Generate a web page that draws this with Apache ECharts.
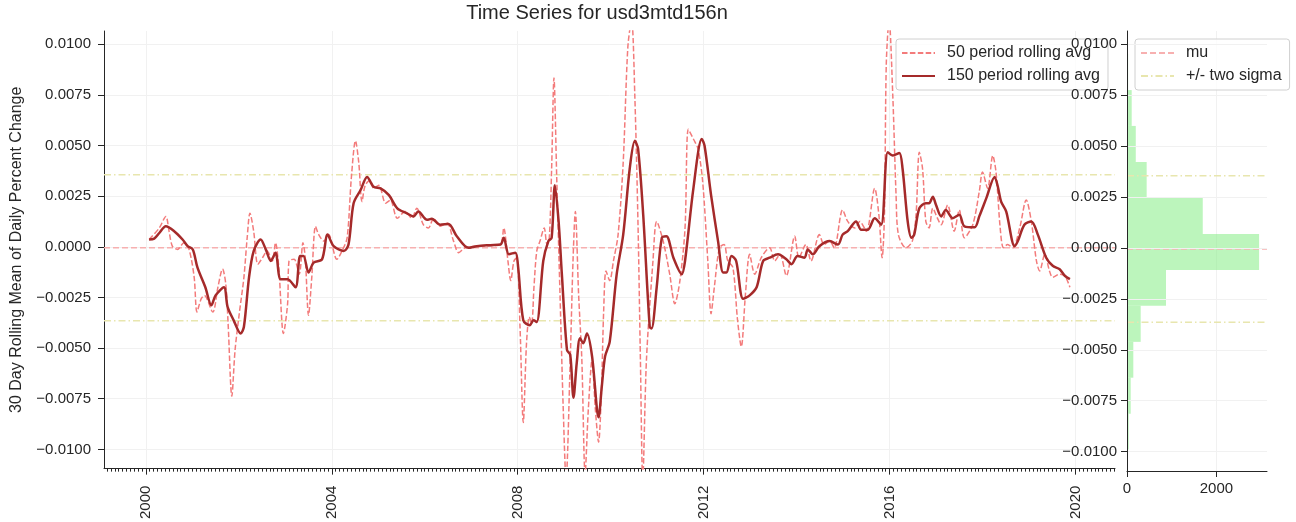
<!DOCTYPE html>
<html>
<head>
<meta charset="utf-8">
<script src="https://cdn.jsdelivr.net/npm/echarts@6/dist/echarts.min.js"></script>
<style>
  html, body { margin: 0; padding: 0; background: #ffffff; }
  #chart { width: 1296px; height: 522px; }
</style>
</head>
<body>
<div id="chart"></div>
<script>
// 150 period rolling average (decimal year, value)
const years150 = [
  2000.07, 2000.18, 2000.29, 2000.43, 2000.61, 2000.79, 2000.90, 2001.01, 2001.11, 2001.28,
  2001.41, 2001.50, 2001.68, 2001.76, 2001.89, 2002.04, 2002.11, 2002.22, 2002.32, 2002.47,
  2002.58, 2002.69, 2002.79, 2002.90, 2003.05, 2003.22, 2003.32, 2003.39, 2003.50, 2003.61,
  2003.79, 2003.91, 2004.04, 2004.26, 2004.36, 2004.47, 2004.62, 2004.76, 2004.90, 2005.05,
  2005.23, 2005.41, 2005.61, 2005.76, 2005.86, 2006.05, 2006.15, 2006.33, 2006.51, 2006.69,
  2006.94, 2007.12, 2007.41, 2007.63, 2007.70, 2007.81, 2007.95, 2008.01, 2008.12, 2008.26,
  2008.34, 2008.41, 2008.55, 2008.66, 2008.73, 2008.80, 2008.88, 2008.95, 2009.06, 2009.13,
  2009.20, 2009.27, 2009.34, 2009.41, 2009.49, 2009.60, 2009.74, 2009.81, 2009.88, 2009.98,
  2010.13, 2010.27, 2010.41, 2010.52, 2010.59, 2010.70, 2010.84, 2010.88, 2010.99, 2011.10,
  2011.20, 2011.35, 2011.53, 2011.60, 2011.78, 2011.96, 2012.02, 2012.16, 2012.31, 2012.42,
  2012.49, 2012.60, 2012.70, 2012.85, 2012.99, 2013.14, 2013.28, 2013.42, 2013.60, 2013.78,
  2013.89, 2014.02, 2014.17, 2014.24, 2014.35, 2014.49, 2014.71, 2014.89, 2014.99, 2015.10,
  2015.28, 2015.39, 2015.53, 2015.68, 2015.82, 2015.96, 2016.07, 2016.21, 2016.28, 2016.39,
  2016.47, 2016.53, 2016.64, 2016.78, 2016.85, 2016.93, 2017.00, 2017.11, 2017.21, 2017.36,
  2017.50, 2017.61, 2017.83, 2017.93, 2018.08, 2018.26, 2018.33, 2018.40, 2018.51, 2018.69,
  2018.76, 2018.90, 2019.05, 2019.19, 2019.37, 2019.51, 2019.66, 2019.77, 2019.88
];
const avg150 = [
  0.00036, 0.00040, 0.00068, 0.00101, 0.00077, 0.00036, 0.00003, -0.00013, -0.00102, -0.00200,
  -0.00289, -0.00240, -0.00200, -0.00298, -0.00363, -0.00428, -0.00395, -0.00151, -0.00021, 0.00036,
  -0.00013, -0.00070, -0.00029, -0.00160, -0.00160, -0.00200, -0.00045, -0.00045, -0.00127, -0.00078,
  -0.00062, 0.00060, 0.00003, -0.00021, 0.00011, 0.00215, 0.00280, 0.00345, 0.00296, 0.00288,
  0.00255, 0.00190, 0.00166, 0.00150, 0.00174, 0.00133, 0.00138, 0.00109, 0.00112, 0.00052,
  -0.00005, 0.00003, 0.00008, 0.00011, 0.00044, -0.00037, -0.00029, -0.00102, -0.00363, -0.00387,
  -0.00363, -0.00371, -0.00070, 0.00028, 0.00044, 0.00304, 0.00125, -0.00135, -0.00509, -0.00533,
  -0.00745, -0.00574, -0.00452, -0.00476, -0.00428, -0.00541, -0.00842, -0.00688, -0.00541, -0.00468,
  -0.00135, 0.00060, 0.00385, 0.00523, 0.00483, 0.00158, -0.00395, -0.00403, -0.00200, 0.00044,
  0.00052, -0.00054, -0.00135, -0.00070, 0.00288, 0.00532, 0.00499, 0.00255, 0.00028, -0.00127,
  -0.00127, -0.00045, -0.00070, -0.00257, -0.00240, -0.00200, -0.00070, -0.00054, -0.00037, -0.00062,
  -0.00086, -0.00045, -0.00054, -0.00013, -0.00037, 0.00003, 0.00028, 0.00011, 0.00060, 0.00077,
  0.00125, 0.00084, 0.00084, 0.00141, 0.00109, 0.00467, 0.00450, 0.00463, 0.00385, 0.00125,
  0.00044, 0.00060, 0.00190, 0.00215, 0.00215, 0.00247, 0.00206, 0.00150, 0.00182, 0.00141,
  0.00158, 0.00101, 0.00096, 0.00150, 0.00239, 0.00345, 0.00296, 0.00223, 0.00174, 0.00003,
  0.00028, 0.00109, 0.00125, 0.00060, -0.00054, -0.00094, -0.00111, -0.00143, -0.00160
];

// 50 period rolling average (decimal year, value)
const years50 = [
  2000.07, 2000.29, 2000.43, 2000.50, 2000.57, 2000.68, 2000.82, 2000.93, 2001.04, 2001.10,
  2001.19, 2001.26, 2001.44, 2001.55, 2001.65, 2001.72, 2001.77, 2001.85, 2001.92, 2002.01,
  2002.11, 2002.18, 2002.24, 2002.32, 2002.41, 2002.51, 2002.61, 2002.72, 2002.79, 2002.86,
  2002.96, 2003.05, 2003.08, 2003.19, 2003.30, 2003.38, 2003.43, 2003.50, 2003.57, 2003.65,
  2003.72, 2003.83, 2003.93, 2004.11, 2004.22, 2004.33, 2004.42, 2004.51, 2004.58, 2004.65,
  2004.72, 2004.83, 2004.90, 2005.01, 2005.16, 2005.26, 2005.41, 2005.58, 2005.72, 2005.83,
  2005.97, 2006.08, 2006.19, 2006.33, 2006.48, 2006.62, 2006.73, 2006.87, 2007.13, 2007.41,
  2007.63, 2007.70, 2007.79, 2007.85, 2007.92, 2007.98, 2008.05, 2008.12, 2008.19, 2008.25,
  2008.30, 2008.35, 2008.41, 2008.48, 2008.57, 2008.63, 2008.68, 2008.73, 2008.78, 2008.84,
  2008.91, 2008.98, 2009.04, 2009.13, 2009.19, 2009.24, 2009.31, 2009.38, 2009.45, 2009.52,
  2009.60, 2009.67, 2009.74, 2009.80, 2009.85, 2009.90, 2009.98, 2010.06, 2010.16, 2010.27,
  2010.37, 2010.45, 2010.52, 2010.59, 2010.64, 2010.69, 2010.77, 2010.91, 2010.99, 2011.13,
  2011.27, 2011.38, 2011.49, 2011.60, 2011.67, 2011.78, 2011.88, 2011.98, 2012.09, 2012.16,
  2012.23, 2012.34, 2012.44, 2012.52, 2012.63, 2012.73, 2012.81, 2012.90, 2012.99, 2013.10,
  2013.24, 2013.42, 2013.53, 2013.64, 2013.78, 2013.96, 2014.05, 2014.20, 2014.31, 2014.49,
  2014.59, 2014.71, 2014.81, 2014.99, 2015.10, 2015.25, 2015.36, 2015.50, 2015.68, 2015.77,
  2015.84, 2015.89, 2015.93, 2015.99, 2016.07, 2016.14, 2016.19, 2016.35, 2016.49, 2016.57,
  2016.64, 2016.71, 2016.78, 2016.85, 2016.93, 2017.03, 2017.11, 2017.25, 2017.39, 2017.50,
  2017.61, 2017.79, 2017.93, 2018.00, 2018.11, 2018.22, 2018.29, 2018.38, 2018.45, 2018.54,
  2018.65, 2018.80, 2018.94, 2019.05, 2019.16, 2019.23, 2019.34, 2019.44, 2019.51, 2019.66,
  2019.77, 2019.88
];
const avg50 = [
  0.00036, 0.00093, 0.00150, 0.00077, 0.00003, -0.00013, 0.00020, -0.00013, -0.00151, -0.00322,
  -0.00257, -0.00240, -0.00322, -0.00200, -0.00110, -0.00184, -0.00379, -0.00737, -0.00509, -0.00330,
  -0.00151, 0.00044, 0.00166, 0.00077, -0.00086, -0.00054, -0.00021, -0.00070, 0.00020, -0.00102,
  -0.00428, -0.00281, -0.00070, -0.00062, -0.00135, 0.00020, -0.00054, -0.00338, -0.00151, 0.00101,
  0.00060, 0.00028, 0.00060, -0.00062, -0.00021, 0.00044, 0.00337, 0.00523, 0.00418, 0.00223,
  0.00304, 0.00328, 0.00288, 0.00304, 0.00215, 0.00231, 0.00141, 0.00174, 0.00141, 0.00190,
  0.00109, 0.00093, 0.00141, 0.00101, 0.00117, 0.00028, -0.00029, -0.00005, 0.00003, 0.00005,
  0.00011, 0.00093, -0.00070, -0.00167, -0.00070, -0.00054, -0.00395, -0.00867, -0.00475, -0.00346,
  -0.00379, -0.00200, -0.00021, 0.00028, 0.00093, 0.00011, 0.00044, 0.00385, 0.00833, 0.00337,
  -0.00233, -0.00802, -0.01150, -0.00558, -0.00070, 0.00174, -0.00233, -0.00558, -0.01120, -0.00800,
  -0.00558, -0.00800, -0.00964, -0.00720, -0.00313, -0.00119, -0.00167, -0.00070, 0.00060, 0.00418,
  0.00987, 0.01120, 0.00743, 0.00093, -0.00558, -0.01150, -0.00558, -0.00070, 0.00125, 0.00028,
  -0.00135, -0.00281, -0.00167, 0.00093, 0.00580, 0.00532, 0.00483, 0.00320, -0.00070, -0.00330,
  -0.00200, -0.00005, 0.00011, -0.00070, -0.00102, -0.00363, -0.00493, -0.00233, -0.00037, -0.00135,
  -0.00054, -0.00005, -0.00070, -0.00037, -0.00143, 0.00052, -0.00054, 0.00011, -0.00070, 0.00060,
  0.00011, 0.00028, -0.00005, 0.00182, 0.00125, 0.00093, 0.00125, 0.00077, 0.00288, 0.00158,
  -0.00054, 0.00158, 0.00906, 0.01120, 0.00743, 0.00255, 0.00060, -0.00005, 0.00028, 0.00158,
  0.00467, 0.00385, 0.00125, 0.00093, 0.00190, 0.00141, 0.00109, 0.00206, 0.00077, 0.00182,
  0.00044, 0.00109, 0.00272, 0.00369, 0.00288, 0.00450, 0.00369, 0.00093, -0.00005, 0.00011,
  -0.00005, 0.00093, 0.00231, 0.00125, -0.00070, -0.00119, -0.00037, -0.00119, -0.00151, -0.00135,
  -0.00143, -0.00200
];

// Histogram of the rolling mean: bin edges and counts
const binEdges = [-0.01167, -0.00990, -0.00814, -0.00637, -0.00461, -0.00284, -0.00108,
                  0.00069, 0.00246, 0.00422, 0.00599, 0.00775, 0.00952, 0.01128];
const binCounts = [20, 38, 83, 141, 306, 872, 2953, 1694, 440, 196, 105, 25, 8];

// Summary statistics
const mu = -0.00005;
const sigma = 0.0018;

// Tick positions
const yTicks = [-0.01, -0.0075, -0.005, -0.0025, 0, 0.0025, 0.005, 0.0075, 0.01];
const xTicks = [2000, 2004, 2008, 2012, 2016, 2020];
const histTicks = [0, 2000];

const Y_MIN = -0.01095, Y_MAX = 0.01065;
const X_MIN = 1999.1, X_MAX = 2020.85;
const H_MAX = 3130;

const FONT = '"Liberation Sans", Arial, sans-serif';
const INK = '#262626';
const GRID_LINE = '#f1f1f1';

// monthly minor ticks along the date axis
const monthTicks = [];
for (let y = 1999; y <= 2021; y++) {
  for (let m = 0; m < 12; m++) {
    const v = y + m / 12;
    if (v >= X_MIN && v <= X_MAX) monthTicks.push(v);
  }
}

const zip = (xs, ys) => xs.map((x, i) => [x, ys[i]]);
const fmtY = v => {
  const a = Math.abs(v).toFixed(4);
  return (v < -1e-12 ? '\u2212' : '') + a;
};

const muStyle = { color: '#f7b0b0', width: 1.5, type: [6, 3] };
const sigStyle = { color: '#e8e6ae', width: 1.5, type: [7, 3, 1.5, 3] };

// horizontal reference line spanning a value range
const hline = (name, xAxisIndex, yAxisIndex, x0, x1, y, style) => ({
  name, type: 'line', xAxisIndex, yAxisIndex, symbol: 'none', z: 2, silent: true,
  data: [[x0, y], [x1, y]], lineStyle: style, itemStyle: { color: style.color }
});

const chart = echarts.init(document.getElementById('chart'), null, { renderer: 'canvas' });

const legendBase = {
  orient: 'vertical',
  top: 39,
  padding: [6, 8, 6, 5],
  itemWidth: 33,
  itemHeight: 14,
  itemGap: 7,
  backgroundColor: 'rgba(255,255,255,0.8)',
  borderColor: '#d0d0d0',
  borderWidth: 1,
  borderRadius: 3,
  z: 4,
  itemStyle: { opacity: 0 },
  textStyle: { fontFamily: FONT, fontSize: 16, color: INK, padding: [0, 0, 0, 7] }
};

chart.setOption({
  animation: false,
  backgroundColor: '#ffffff',
  textStyle: { fontFamily: FONT },
  title: {
    text: 'Time Series for usd3mtd156n',
    left: 597,
    top: 3,
    padding: 0,
    textAlign: 'center',
    textStyle: { fontFamily: FONT, fontSize: 20, fontWeight: 'normal', color: INK }
  },
  legend: [
    Object.assign({}, legendBase, { left: 896, data: ['50 period rolling avg', '150 period rolling avg'] }),
    Object.assign({}, legendBase, { left: 1135, data: ['mu', '+/- two sigma'] })
  ],
  grid: [
    { left: 104, top: 31, width: 1011, height: 440, containLabel: false },
    { left: 1127, top: 31, width: 140, height: 440, containLabel: false }
  ],
  xAxis: [
    {
      type: 'value', gridIndex: 0, min: X_MIN, max: X_MAX, position: 'bottom',
      axisLine: { show: true, onZero: false, lineStyle: { color: INK, width: 1 } },
      axisTick: { show: true, customValues: xTicks, length: 6, lineStyle: { color: INK } },
      axisLabel: { customValues: xTicks, rotate: 90, margin: 17, fontSize: 15, color: INK,
                   fontFamily: FONT, formatter: v => String(Math.round(v)) },
      splitLine: { show: true, lineStyle: { color: GRID_LINE, width: 1 } }
    },
    {
      type: 'value', gridIndex: 0, min: X_MIN, max: X_MAX, position: 'bottom',
      axisLine: { show: false, onZero: false },
      axisTick: { show: true, customValues: monthTicks, length: 3, lineStyle: { color: INK } },
      axisLabel: { show: false },
      splitLine: { show: false }
    },
    {
      type: 'value', gridIndex: 1, min: 0, max: H_MAX, position: 'bottom',
      axisLine: { show: true, onZero: false, lineStyle: { color: INK, width: 1 } },
      axisTick: { show: true, customValues: histTicks, length: 6, lineStyle: { color: INK } },
      axisLabel: { customValues: histTicks, margin: 10, fontSize: 15, color: INK, fontFamily: FONT,
                   formatter: v => String(Math.round(v)) },
      splitLine: { show: true, lineStyle: { color: GRID_LINE, width: 1 } }
    }
  ],
  yAxis: [
    {
      type: 'value', gridIndex: 0, min: Y_MIN, max: Y_MAX,
      name: '30 Day Rolling Mean of Daily Percent Change',
      nameLocation: 'middle', nameGap: 79,
      nameTextStyle: { fontFamily: FONT, fontSize: 16, color: INK },
      axisLine: { show: true, onZero: false, lineStyle: { color: INK, width: 1 } },
      axisTick: { show: true, customValues: yTicks, length: 6, lineStyle: { color: INK } },
      axisLabel: { customValues: yTicks, margin: 13, fontSize: 15, color: INK, fontFamily: FONT, formatter: fmtY },
      splitLine: { show: true, lineStyle: { color: GRID_LINE, width: 1 } }
    },
    {
      type: 'value', gridIndex: 1, min: Y_MIN, max: Y_MAX, z: 10,
      axisLine: { show: true, onZero: false, lineStyle: { color: INK, width: 1 } },
      axisTick: { show: true, customValues: yTicks, length: 6, lineStyle: { color: INK } },
      axisLabel: { customValues: yTicks, margin: 10, fontSize: 15, color: INK, fontFamily: FONT, formatter: fmtY },
      splitLine: { show: true, lineStyle: { color: GRID_LINE, width: 1 } }
    }
  ],
  series: [
    // reference lines across the time-series panel
    hline('mu (series)', 0, 0, X_MIN, X_MAX, mu, muStyle),
    hline('upper (series)', 0, 0, X_MIN, X_MAX, mu + 2 * sigma, sigStyle),
    hline('lower (series)', 0, 0, X_MIN, X_MAX, mu - 2 * sigma, sigStyle),
    {
      name: '50 period rolling avg', type: 'line', xAxisIndex: 0, yAxisIndex: 0,
      data: zip(years50, avg50), symbol: 'none', smooth: 0.3, z: 3,
      lineStyle: { color: '#f37b7b', width: 1.5, type: [5.5, 2.4] },
      itemStyle: { color: '#f37b7b' }
    },
    {
      name: '150 period rolling avg', type: 'line', xAxisIndex: 0, yAxisIndex: 0,
      data: zip(years150, avg150), symbol: 'none', smooth: 0.3, z: 4,
      lineStyle: { color: '#a52a2a', width: 2.5 },
      itemStyle: { color: '#a52a2a' }
    },
    {
      name: 'hist', type: 'custom', xAxisIndex: 2, yAxisIndex: 1, clip: true, z: 2,
      data: binCounts.map((c, i) => [binEdges[i], binEdges[i + 1], c]),
      encode: { x: 2, y: [0, 1] },
      renderItem: (params, api) => {
        const lo = api.value(0), hi = api.value(1), n = api.value(2);
        const p0 = api.coord([0, hi]);
        const p1 = api.coord([n, lo]);
        return {
          type: 'rect',
          shape: { x: p0[0], y: p0[1], width: p1[0] - p0[0], height: p1[1] - p0[1] },
          style: { fill: 'rgba(144,238,144,0.6)' }
        };
      }
    },
    // reference lines across the histogram panel
    hline('mu', 2, 1, 0, H_MAX, mu, muStyle),
    hline('+/- two sigma', 2, 1, 0, H_MAX, mu + 2 * sigma, sigStyle),
    hline('+/- two sigma', 2, 1, 0, H_MAX, mu - 2 * sigma, sigStyle)
  ]
});
</script>
</body>
</html>
